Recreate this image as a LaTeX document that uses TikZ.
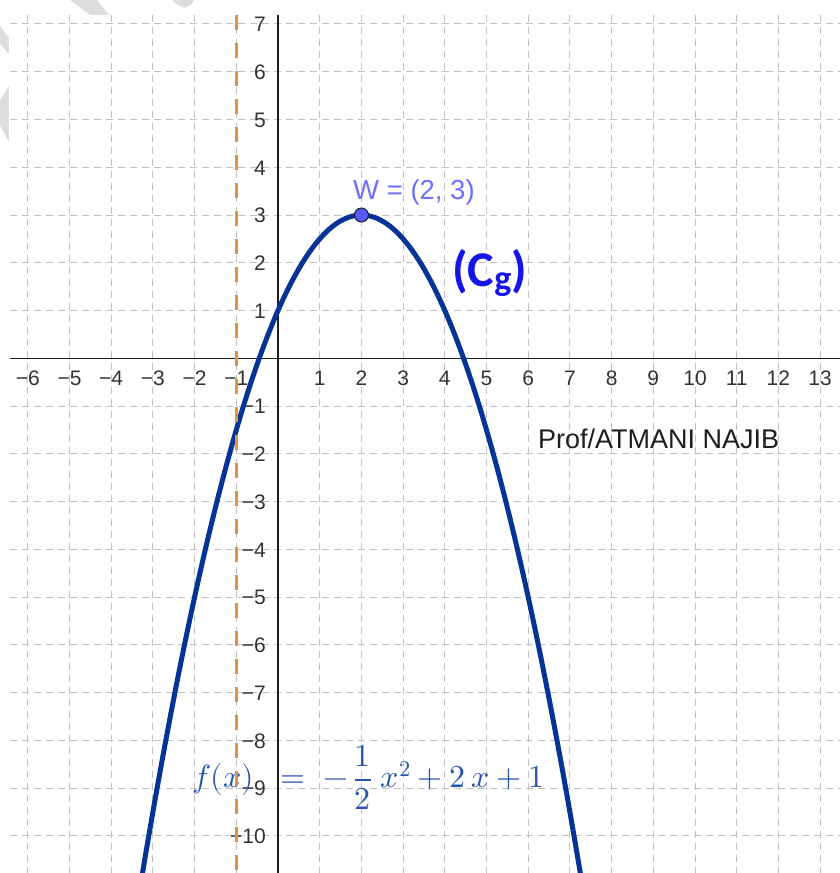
\documentclass[tikz,border=0pt]{standalone}
\usepackage{fontspec}
\setmainfont{Liberation Sans}
\newfontfamily\cgfont{Carlito}
\usepackage{unicode-math}
\setmathfont{Latin Modern Math}
\definecolor{gridgray}{RGB}{192,192,192}
\definecolor{axiscol}{RGB}{30,30,30}
\definecolor{ticklab}{RGB}{51,51,51}
\definecolor{asyorange}{RGB}{224,146,70}
\definecolor{curveblue}{RGB}{5,52,150}
\definecolor{ptfill}{RGB}{88,88,255}
\definecolor{wlab}{RGB}{110,110,255}
\definecolor{cgblue}{RGB}{20,20,235}
\definecolor{formblue}{RGB}{40,85,175}
\definecolor{wmark}{RGB}{221,221,221}
\tikzset{
  gridline/.style={gridgray,line width=1bp,dash pattern=on 7bp off 5bp},
  axisline/.style={axiscol,line width=1.5bp},
  xlab/.style={anchor=base,inner sep=0pt,text=ticklab,font=\fontsize{21bp}{25bp}\selectfont},
  ylab/.style={anchor=base east,inner sep=0pt,text=ticklab,font=\fontsize{21bp}{25bp}\selectfont},
  asymline/.style={asyorange,line width=3bp,dash pattern=on 15bp off 13bp},
  curveline/.style={curveblue,line width=5bp},
  ptstyle/.style={circle,fill=ptfill,draw=axiscol,line width=1bp,minimum size=14bp,inner sep=0pt},
}
\begin{document}
\begin{tikzpicture}[x=41.7bp,y=47.76bp]
\useasboundingbox (-6.6667,-10.777) rectangle (13.477,7.502);
\clip (-6.6667,-10.777) rectangle (13.477,7.502);
% watermark fragments (pixel coordinates)
\begin{scope}[x=1bp,y=-1bp,shift={(-278bp,358.3bp)}]
  \fill[wmark] (70,0) -- (97,0) -- (109,15) -- (90,15) -- cycle;
  \fill[wmark] (172,0) -- (194,0) -- (191,5) -- (184,8) -- (178,5) -- cycle;
  \fill[wmark] (0,26) -- (9,38) -- (9,54) -- (0,44) -- cycle;
  \fill[wmark] (9,86) -- (9,142) -- (0,125) -- (0,100) -- cycle;
\end{scope}
% grid
\foreach \i in {-6,...,13} \draw[gridline] (\i,7.188) -- (\i,-10.8);
\foreach \j in {-10,...,7} \draw[gridline] (-6.427,\j) -- (13.5,\j);
% axes
\coordinate (xl) at (-6.427,0);
\coordinate (xr) at (13.5,0);
\coordinate (yt) at (0,7.188);
\coordinate (yb) at (0,-10.8);
\draw[axisline] (xl) -- (xr);
\draw[axisline] (yt) -- (yb);
% tick labels
\foreach \i in {-6,...,-1} \node[xlab] (xt\i) at (\i,-0.56) {−\the\numexpr-\i\relax};
\foreach \i in {1,...,13} \node[xlab] (xt\i) at (\i,-0.56) {\i};
\foreach \j in {1,...,7} \node[ylab] (yt\j) at (-0.29,\j-0.163) {\j};
\foreach \j in {-10,...,-1} \node[ylab] (yt\j) at (-0.29,\j-0.163) {−\the\numexpr-\j\relax};
% formula
\node[anchor=base west,inner sep=0pt,text=formblue,font=\fontsize{32bp}{36bp}\selectfont] (form) at (-2.062,-8.997)
  {$f(x)\;\;=\;-\,\dfrac{1}{2}\;x^{2}+2\,x+1$};
% curve
\draw[curveline] plot[domain=-3.45:7.45,samples=120,smooth] (\x,{-0.5*\x*\x+2*\x+1});
% dashed vertical line
\coordinate (at) at (-1,7.188);
\coordinate (ab) at (-1,-10.8);
\draw[asymline] (at) -- (ab);
% vertex
\node[ptstyle] (W) at (2,3) {};
\node[anchor=base west,inner sep=0pt,text=wlab,font=\fontsize{27.5bp}{32bp}\selectfont] (Wlab) at (1.799,3.315) {W = (2, 3)};
% curve name
\node[anchor=base west,inner sep=0pt,text=cgblue,font=\cgfont\bfseries\fontsize{50bp}{54bp}\selectfont] (Cg) at (4.173,1.493)
  {(C{\fontsize{36bp}{36bp}\selectfont\raisebox{-4bp}{g}})};
% author
\node[anchor=base west,inner sep=0pt,text=axiscol,font=\fontsize{27bp}{32bp}\selectfont] (prof) at (6.235,-1.899) {Prof/ATMANI NAJIB};
\end{tikzpicture}
\end{document}
